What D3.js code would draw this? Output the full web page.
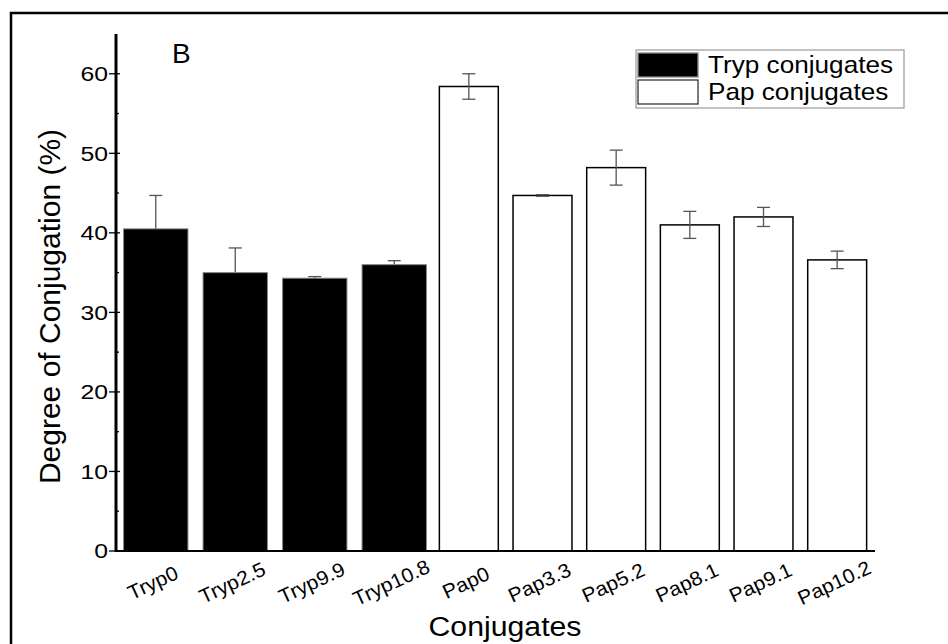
<!DOCTYPE html>
<html>
<head>
<meta charset="utf-8">
<script src="https://cdn.jsdelivr.net/npm/d3@7"></script>
<style>
  html, body { margin: 0; padding: 0; background: #fff; }
  svg { display: block; font-family: Arial, "Liberation Sans", sans-serif; }
</style>
</head>
<body>
<svg id="chart" width="948" height="644"></svg>
<script>
// ---- data ----
const trypCategories = ["Tryp0", "Tryp2.5", "Tryp9.9", "Tryp10.8"];
const trypValues = [40.5, 35.0, 34.3, 36.0];
const trypErrors = [4.2, 3.1, 0.2, 0.5];

const papCategories = ["Pap0", "Pap3.3", "Pap5.2", "Pap8.1", "Pap9.1", "Pap10.2"];
const papValues = [58.4, 44.7, 48.2, 41.0, 42.0, 36.6];
const papErrors = [1.6, 0.1, 2.2, 1.7, 1.2, 1.1];

const yMajorTicks = [0, 10, 20, 30, 40, 50, 60];
const yMinorTicks = [5, 15, 25, 35, 45, 55];
const legendLabels = ["Tryp conjugates", "Pap conjugates"];

// ---- layout ----
const svg = d3.select("#chart");
const x0 = 116, x1 = 875, yBottom = 551, yTop = 34;

const y = d3.scaleLinear().domain([0, 65]).range([yBottom, yTop]);
const xTryp = d3.scaleBand().domain(trypCategories).range([x0, 434])
  .paddingInner(0.19).paddingOuter(0.095);
const xPap = d3.scaleBand().domain(papCategories).range([432, 874])
  .paddingInner(0.2).paddingOuter(0.1);

// outer frame (left and top edges)
svg.append("path")
  .attr("d", "M11,644 L11,13 L948,13")
  .attr("fill", "none").attr("stroke", "#000").attr("stroke-width", 2.5);

const trypData = trypCategories.map((c, i) => ({c, v: trypValues[i], e: trypErrors[i]}));
const papData = papCategories.map((c, i) => ({c, v: papValues[i], e: papErrors[i]}));

function errorBars(g, data, xs, color) {
  const cap = 6.5;
  data.forEach(d => {
    const cx = xs(d.c) + xs.bandwidth() / 2;
    const eg = g.append("g").attr("stroke", color).attr("stroke-width", 1.3).attr("fill", "none");
    eg.append("line").attr("x1", cx).attr("x2", cx).attr("y1", y(d.v + d.e)).attr("y2", y(d.v - d.e));
    eg.append("line").attr("x1", cx - cap).attr("x2", cx + cap).attr("y1", y(d.v + d.e)).attr("y2", y(d.v + d.e));
    eg.append("line").attr("x1", cx - cap).attr("x2", cx + cap).attr("y1", y(d.v - d.e)).attr("y2", y(d.v - d.e));
  });
}

// Tryp error bars (lower halves hidden behind black bars)
errorBars(svg.append("g"), trypData, xTryp, "#555");

// bars
svg.append("g").selectAll("rect").data(trypData).join("rect")
  .attr("x", d => xTryp(d.c)).attr("width", xTryp.bandwidth())
  .attr("y", d => y(d.v)).attr("height", d => yBottom - y(d.v))
  .attr("fill", "#000").attr("stroke", "#888").attr("stroke-width", 1);

svg.append("g").selectAll("rect").data(papData).join("rect")
  .attr("x", d => xPap(d.c)).attr("width", xPap.bandwidth())
  .attr("y", d => y(d.v)).attr("height", d => yBottom - y(d.v))
  .attr("fill", "#fff").attr("stroke", "#000").attr("stroke-width", 1.5);

errorBars(svg.append("g"), papData, xPap, "#555");

// y axis
const yAxis = d3.axisLeft(y).tickValues(yMajorTicks).tickSize(0).tickPadding(8);
const yg = svg.append("g").attr("transform", `translate(${x0},0)`).call(yAxis);
yg.select(".domain").remove();
yg.selectAll("text").attr("font-size", 21).attr("fill", "#000")
  .attr("x", 0).attr("transform", "translate(-8,0) scale(1.18,1)");
svg.append("line").attr("x1", x0).attr("x2", x0).attr("y1", yTop).attr("y2", yBottom + 1)
  .attr("stroke", "#000").attr("stroke-width", 3);
svg.append("g").selectAll("line").data(yMajorTicks).join("line")
  .attr("x1", x0 - 7).attr("x2", x0 + 4).attr("y1", d => y(d)).attr("y2", d => y(d))
  .attr("stroke", "#000").attr("stroke-width", 1.3);
svg.append("g").selectAll("line").data(yMinorTicks).join("line")
  .attr("x1", x0).attr("x2", x0 + 3).attr("y1", d => y(d)).attr("y2", d => y(d))
  .attr("stroke", "#000").attr("stroke-width", 1.3);

// x axis line
svg.append("line").attr("x1", x0).attr("x2", x1).attr("y1", yBottom).attr("y2", yBottom)
  .attr("stroke", "#000").attr("stroke-width", 2);

// x tick labels (rotated)
function xLabels(data, xs) {
  svg.append("g").selectAll("text").data(data).join("text")
    .attr("transform", d => `translate(${xs(d.c) + xs.bandwidth() / 2},${yBottom + 38}) rotate(-25) scale(1.05,1)`)
    .attr("text-anchor", "middle").attr("font-size", 20).attr("fill", "#000")
    .text(d => d.c);
}
xLabels(trypData, xTryp);
xLabels(papData, xPap);

// axis titles
svg.append("text").attr("transform", "translate(505,636) scale(1.12,1)").attr("text-anchor", "middle")
  .attr("font-size", 27).attr("fill", "#000").text("Conjugates");
svg.append("text").attr("transform", `translate(60,${(yTop + yBottom) / 2 + 14}) rotate(-90)`)
  .attr("text-anchor", "middle").attr("font-size", 30).attr("fill", "#000")
  .text("Degree of Conjugation (%)");

// panel letter
svg.append("text").attr("x", 172).attr("y", 63).attr("font-size", 28).attr("fill", "#000").text("B");

// legend
const lg = svg.append("g");
const lx = 636, lyTop = 50, rowH = 27, lw = 268;
lg.append("rect").attr("x", lx).attr("y", lyTop).attr("width", lw).attr("height", 58)
  .attr("fill", "#fff").attr("stroke", "#999").attr("stroke-width", 1.2);
const fills = ["#000", "#fff"];
legendLabels.forEach((t, i) => {
  lg.append("rect").attr("x", lx + 2).attr("y", lyTop + 3 + i * rowH).attr("width", 60).attr("height", 24)
    .attr("fill", fills[i]).attr("stroke", i === 0 ? "#888" : "#333").attr("stroke-width", 1.3);
  lg.append("text").attr("transform", `translate(${lx + 72},${lyTop + 23 + i * rowH}) scale(1.09,1)`)
    .attr("font-size", 24).attr("fill", "#000").text(t);
});
</script>
</body>
</html>
